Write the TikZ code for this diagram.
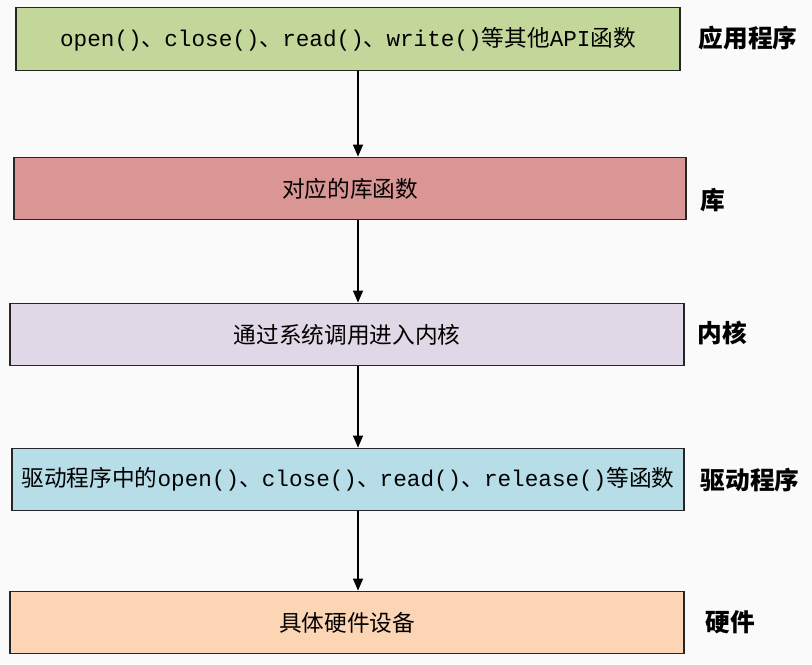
\documentclass[tikz,border=0pt]{standalone}
\usepackage{fontspec}
\setmainfont{Noto Sans CJK SC}
\newfontfamily\monofont{Liberation Mono}
\usetikzlibrary{arrows.meta, positioning}
\newcommand{\fn}[1]{{\monofont #1}}
\begin{document}
\begin{tikzpicture}[x=0.75pt, y=-0.75pt,
  layer/.style={draw=black!85, line width=0.9pt, minimum height=47pt, inner sep=0pt, font=\fontsize{17}{20}\selectfont},
  side/.style={font=\fontsize{18.5}{21}\selectfont\bfseries},
  arr/.style={-{Triangle[length=9pt,width=7.5pt]}, line width=0.9pt}]
\definecolor{appgreen}{HTML}{C4D79B}
\definecolor{libred}{HTML}{DA9694}
\definecolor{kernlav}{HTML}{E0D8E6}
\definecolor{drvblue}{HTML}{B7DEE8}
\definecolor{hwpeach}{HTML}{FCD5B4}
\fill [black!2] (0,0) rectangle (812,664);
\useasboundingbox (0,0) rectangle (812,664);
\node [layer, fill=appgreen, minimum width=498pt] (app) at (348,39) {\fn{open()}、\fn{close()}、\fn{read()}、\fn{write()}等其他\fn{API}函数};
\node [layer, fill=libred, minimum width=504pt] (lib) at (350,188.5) {对应的库函数};
\node [layer, fill=kernlav, minimum width=505.5pt] (kern) at (347,334.5) {通过系统调用进入内核};
\node [layer, fill=drvblue, minimum width=504pt] (drv) at (348,479.5) {驱动程序中的\fn{open()}、\fn{close()}、\fn{read()}、\fn{release()}等函数};
\node [layer, fill=hwpeach, minimum width=505.5pt] (hw) at (347,622.5) {具体硬件设备};
\node [side] (appl) at (748,38) {应用程序};
\node [side] (libl) at (713,200) {库};
\node [side] (kernl) at (722,333) {内核};
\node [side] (drvl) at (750,480) {驱动程序};
\node [side] (hwl) at (730,622) {硬件};
\coordinate (ax) at (358,0);
\draw [arr] (app.south -| ax) -- (lib.north -| ax);
\draw [arr] (lib.south -| ax) -- (kern.north -| ax);
\draw [arr] (kern.south -| ax) -- (drv.north -| ax);
\draw [arr] (drv.south -| ax) -- (hw.north -| ax);
\end{tikzpicture}
\end{document}
